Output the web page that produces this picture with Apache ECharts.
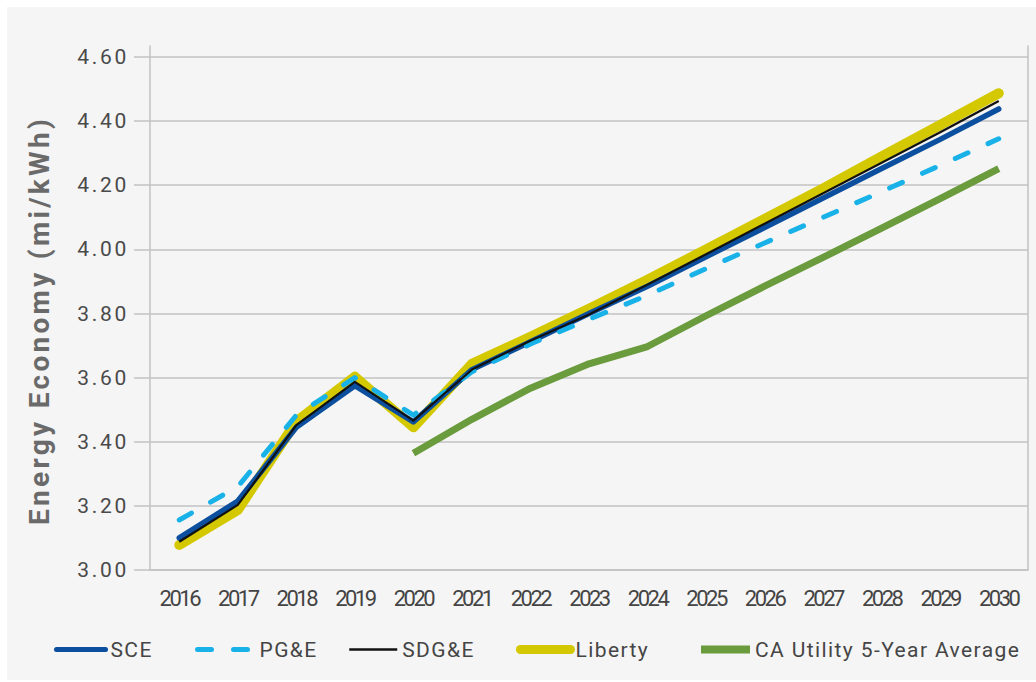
<!DOCTYPE html>
<html>
<head>
<meta charset="utf-8">
<script src="https://cdn.jsdelivr.net/npm/echarts@6/dist/echarts.min.js"></script>
<style>
  html, body { margin: 0; padding: 0; background: #ffffff; }
  #panel { position: absolute; left: 7px; top: 7px; background: #f5f5f5; width: 1029px; height: 673px; }
  #chart { position: absolute; left: 0; top: 0; width: 1036px; height: 682px; }
</style>
</head>
<body>
<div id="panel"></div>
<div id="chart"></div>
<script>
// ---- data ----
const years = ['2016','2017','2018','2019','2020','2021','2022','2023','2024','2025','2026','2027','2028','2029','2030'];
const sce     = [3.100, 3.215, 3.445, 3.575, 3.462, 3.625, 3.712, 3.800, 3.885, 3.977, 4.068, 4.160, 4.252, 4.343, 4.438];
const pge     = [3.156, 3.260, 3.483, 3.600, 3.483, 3.618, 3.705, 3.782, 3.857, 3.940, 4.020, 4.100, 4.180, 4.262, 4.345];
const sdge    = [3.088, 3.203, 3.452, 3.587, 3.466, 3.625, 3.715, 3.797, 3.890, 3.985, 4.080, 4.175, 4.270, 4.365, 4.463];
const liberty = [3.078, 3.187, 3.463, 3.603, 3.445, 3.643, 3.727, 3.815, 3.905, 4.000, 4.095, 4.190, 4.290, 4.388, 4.487];
const caAvg   = [null, null, null, null, 3.364, 3.470, 3.567, 3.643, 3.697, 3.793, 3.885, 3.975, 4.066, 4.158, 4.252];
const seriesNames = ['SCE', 'PG&E', 'SDG&E', 'Liberty', 'CA Utility 5-Year Average'];
const yTicks = { min: 3.0, max: 4.6, interval: 0.2 };
const yTitle = 'Energy Economy (mi/kWh)';

// ---- chart ----
const chart = echarts.init(document.getElementById('chart'), null, { renderer: 'svg' });
const gridLine = '#c2c2c2';
const colors = { sce: '#0b4f9e', pge: '#19b2e8', sdge: '#111111', liberty: '#d4c800', ca: '#6a9b3d' };
const legendText = { color: '#454545', fontFamily: 'Roboto', fontSize: 21 };
function legendAt(name, left, w, lw) {
  return { data: [name], left: left, top: 639, itemWidth: w, itemHeight: 14, padding: 0,
           textStyle: legendText, selectedMode: false,
           itemStyle: { opacity: 0 }, lineStyle: { width: lw } };
}
chart.setOption({
  animation: false,
  backgroundColor: 'transparent',
  grid: [
    { left: 150, right: 8, top: 57, bottom: 112 },
    { left: 150, right: 8, top: 46, bottom: 112 }
  ],
  xAxis: [
    { type: 'category', data: years, boundaryGap: true, gridIndex: 0,
      axisLine: { show: true, lineStyle: { color: gridLine, width: 1.5 } },
      axisTick: { show: false },
      axisLabel: { color: '#444', fontFamily: 'Roboto', fontSize: 22, margin: 17, interval: 0 } },
    { type: 'value', gridIndex: 1, show: false }
  ],
  yAxis: [
    { type: 'value', gridIndex: 0, min: yTicks.min, max: yTicks.max, interval: yTicks.interval,
      name: yTitle, nameLocation: 'middle', nameGap: 97,
      nameTextStyle: { color: '#6a6a6a', fontFamily: 'Roboto', fontWeight: 'bold', fontSize: 28,
                       padding: [0, 14, 0, 0] },
      axisLine: { show: false },
      axisTick: { show: true, length: 16, lineStyle: { color: gridLine, width: 1.5 } },
      axisLabel: { color: '#4a4a4a', fontFamily: 'Roboto', fontSize: 21, margin: 21,
                   formatter: v => v.toFixed(2) },
      splitLine: { show: true, lineStyle: { color: gridLine, width: 1.5 } } },
    { type: 'value', gridIndex: 1, min: 0, max: 1, position: 'left',
      axisLine: { show: true, lineStyle: { color: gridLine, width: 1.5 } },
      axisTick: { show: false }, axisLabel: { show: false }, splitLine: { show: false } },
    { type: 'value', gridIndex: 1, min: 0, max: 1, position: 'right',
      axisLine: { show: true, lineStyle: { color: gridLine, width: 1.5 } },
      axisTick: { show: false }, axisLabel: { show: false }, splitLine: { show: false } }
  ],
  legend: [
    legendAt(seriesNames[0], 54, 49, 5),
    legendAt(seriesNames[1], 195, 57, 5),
    legendAt(seriesNames[2], 348, 48, 2.5),
    legendAt(seriesNames[3], 516, 50, 9),
    legendAt(seriesNames[4], 697, 49, 8)
  ],
  series: [
    { name: seriesNames[3], type: 'line', data: liberty, symbol: 'none', z: 2,
      lineStyle: { color: colors.liberty, width: 10, cap: 'round', join: 'round' }, itemStyle: { color: colors.liberty } },
    { name: seriesNames[0], type: 'line', data: sce, symbol: 'none', z: 3,
      lineStyle: { color: colors.sce, width: 5.5, cap: 'round', join: 'round' }, itemStyle: { color: colors.sce } },
    { name: seriesNames[4], type: 'line', data: caAvg, symbol: 'none', z: 3,
      lineStyle: { color: colors.ca, width: 7, cap: 'butt', join: 'round' }, itemStyle: { color: colors.ca } },
    { name: seriesNames[1], type: 'line', data: pge, symbol: 'none', z: 4,
      lineStyle: { color: colors.pge, width: 5, type: [14, 22], cap: 'round', join: 'round' }, itemStyle: { color: colors.pge } },
    { name: seriesNames[2], type: 'line', data: sdge, symbol: 'none', z: 5,
      lineStyle: { color: colors.sdge, width: 2.2, join: 'round' }, itemStyle: { color: colors.sdge } }
  ]
});

function applySpacing() {
  document.querySelectorAll('#chart svg text').forEach(t => {
    const s = t.textContent.trim();
    let ls = 1.4;
    if (/^\d\.\d\d$/.test(s)) ls = 2.7;
    else if (/^\d{4}$/.test(s)) ls = -2.5;
    else if (s === yTitle) ls = 3.3;
    t.style.letterSpacing = ls + 'px';
  });
}
chart.on('finished', applySpacing);
setTimeout(applySpacing, 50);
</script>
</body>
</html>
